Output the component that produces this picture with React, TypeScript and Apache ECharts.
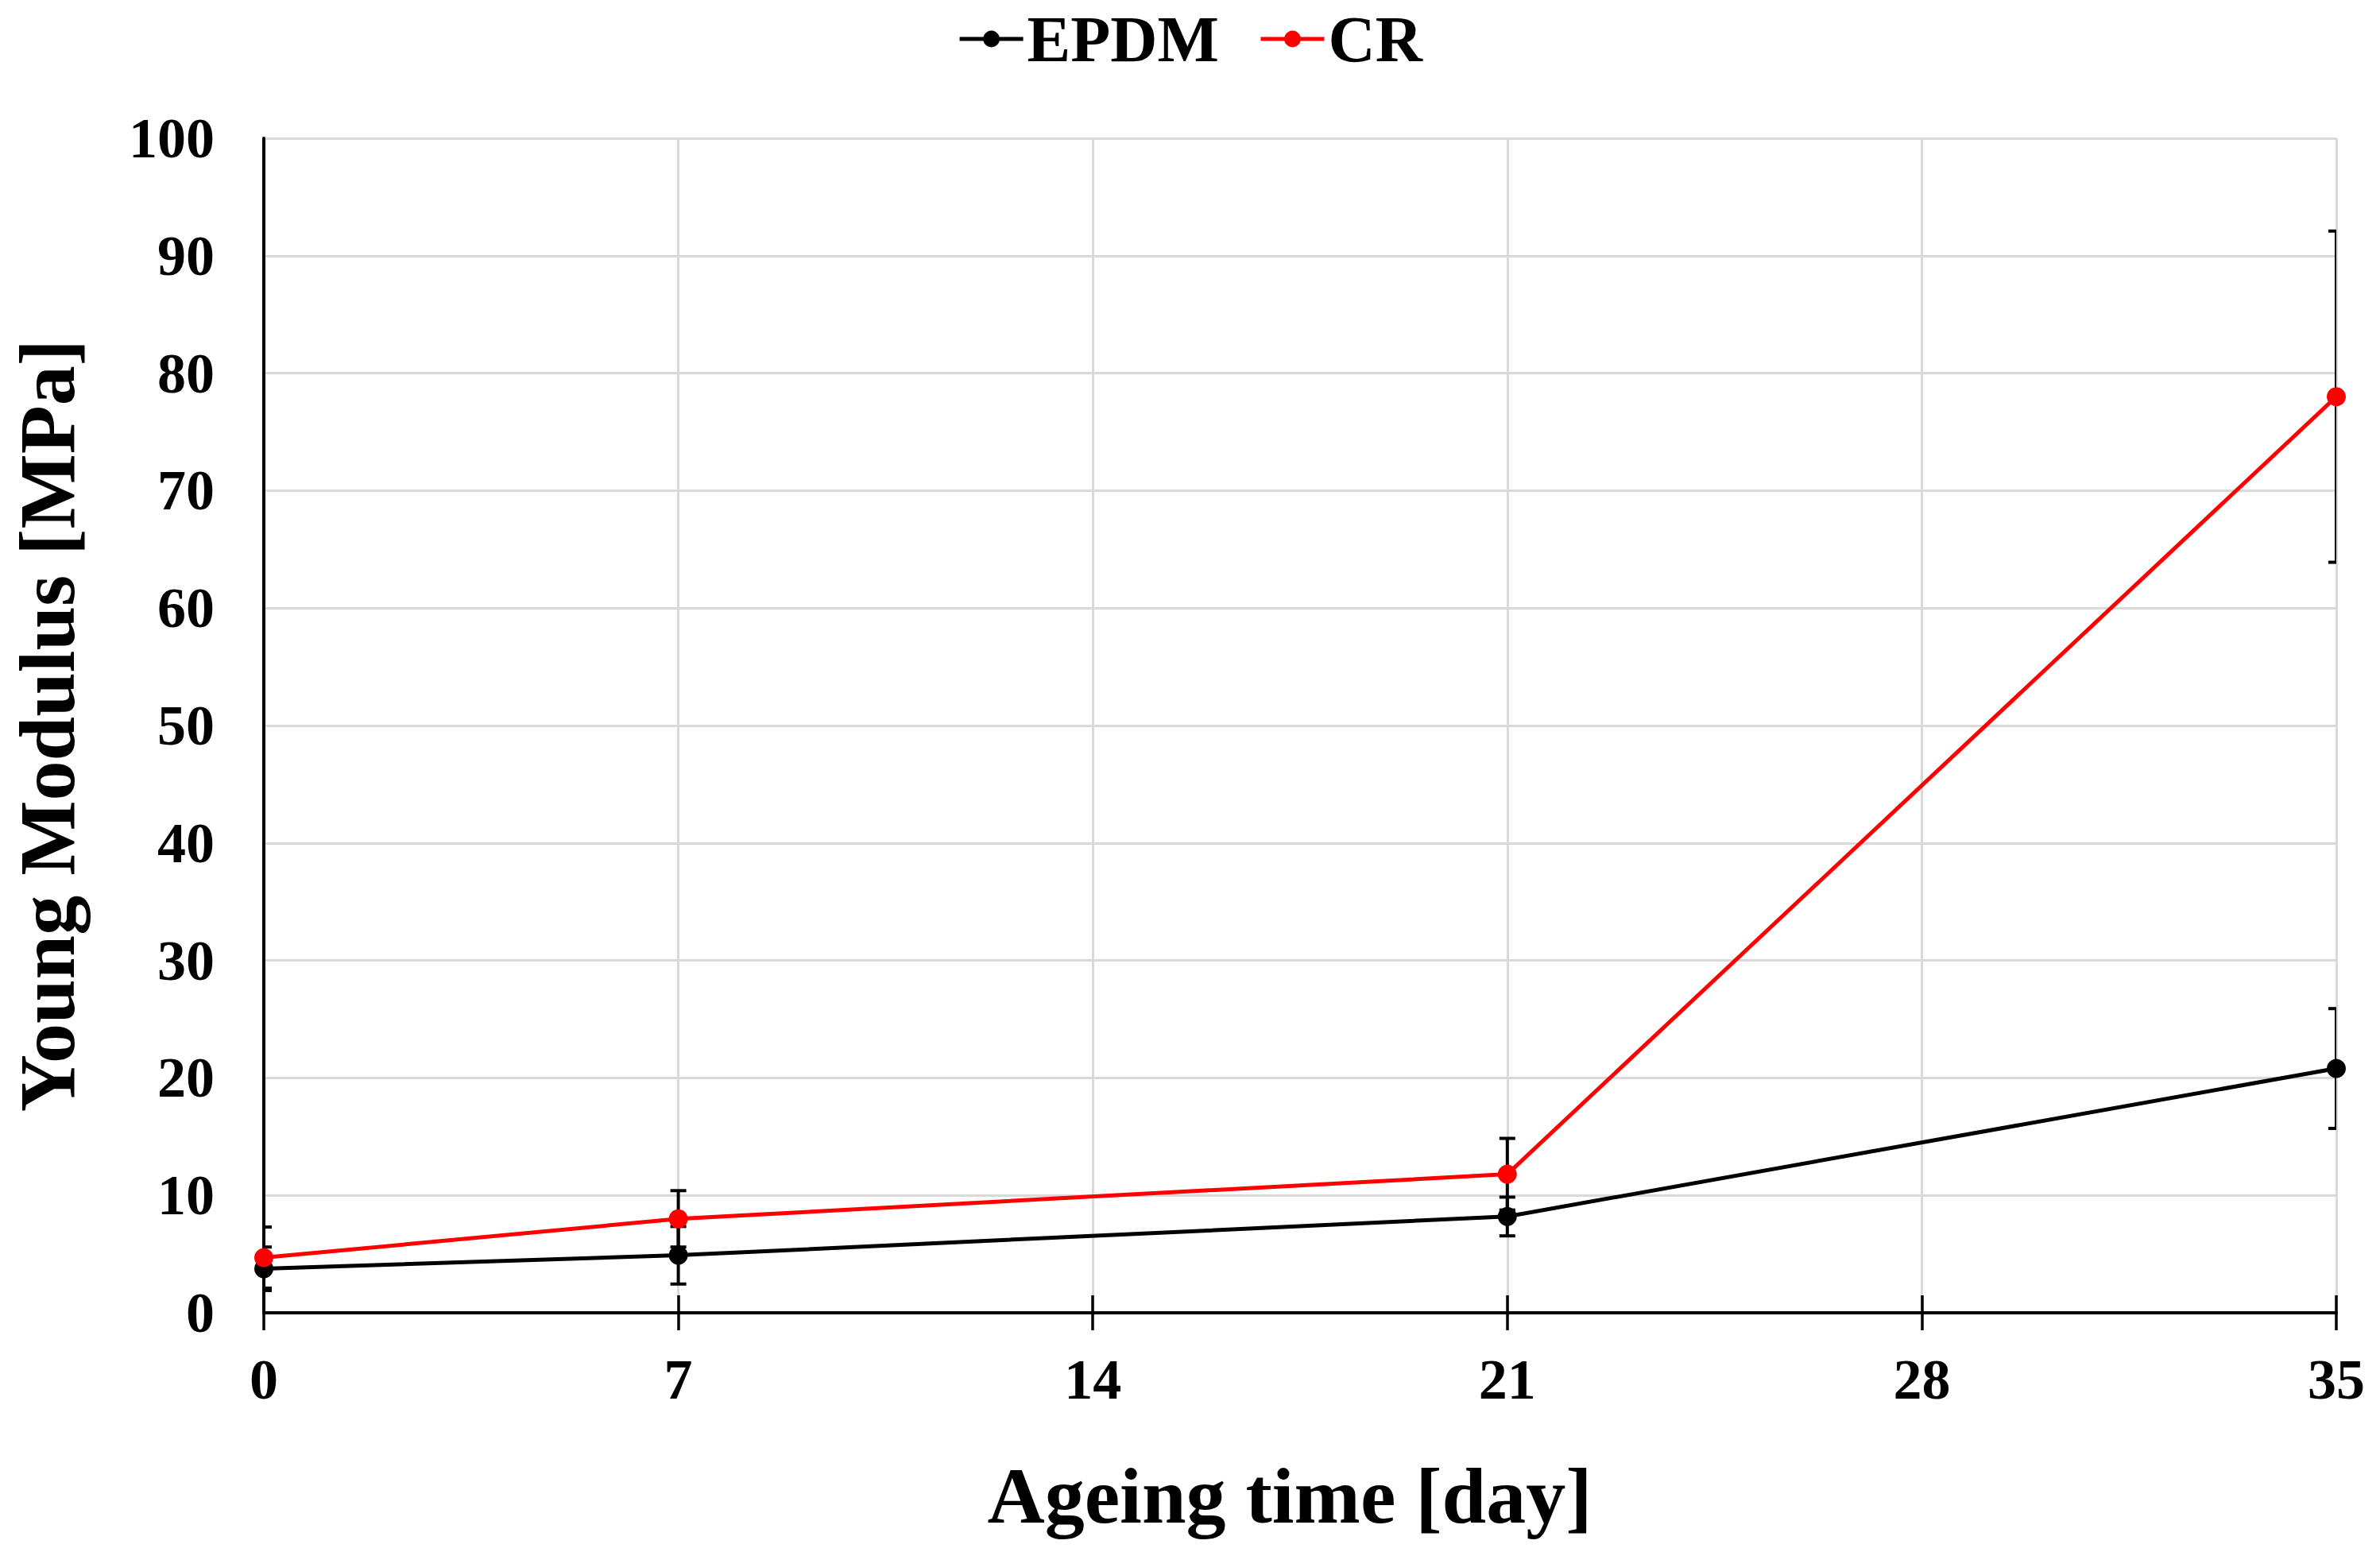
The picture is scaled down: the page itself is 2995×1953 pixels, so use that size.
import React, { useEffect, useRef } from "react";
import * as echarts from "echarts";

const days = [0, 7, 21, 35];
const epdmValues = [3.75, 4.9, 8.2, 20.8];
const epdmErrors = [1.85, 2.45, 1.65, 5.1];
const crValues = [4.7, 8.0, 11.8, 78.0];
const crErrors = [2.6, 2.4, 3.05, 14.1];
const xTicks = { min: 0, max: 35, interval: 7 };
const yTicks = { min: 0, max: 100, interval: 10 };

const FONT = '"Times New Roman", "Liberation Serif", serif';

function errorSeries(name: string, vals: number[], errs: number[]) {
  return {
    type: "custom",
    name: name + "-err",
    clip: true,
    z: 1,
    silent: true,
    data: days.map((d, i) => [d, vals[i] - errs[i], vals[i] + errs[i]]),
    renderItem: (params: any, api: any) => {
      const x = api.value(0);
      const lo = api.coord([x, api.value(1)]);
      const hi = api.coord([x, api.value(2)]);
      const hw = 10;
      const style = { stroke: "#000", lineWidth: 4 };
      return {
        type: "group",
        children: [
          { type: "line", shape: { x1: lo[0], y1: lo[1], x2: hi[0], y2: hi[1] }, style },
          { type: "line", shape: { x1: lo[0] - hw, y1: lo[1], x2: lo[0] + hw, y2: lo[1] }, style },
          { type: "line", shape: { x1: hi[0] - hw, y1: hi[1], x2: hi[0] + hw, y2: hi[1] }, style },
        ],
      };
    },
  };
}

export default function App() {
  const ref = useRef<HTMLDivElement>(null);
  useEffect(() => {
    document.body.style.margin = "0";
    const chart = echarts.init(ref.current!, null, { renderer: "svg" });
    const gridTop = 174;
    const gridBottom = 301;
    const gridHeight = 1953 - gridTop - gridBottom;
    chart.setOption({
      animation: false,
      backgroundColor: "#ffffff",
      textStyle: { fontFamily: FONT },
      legend: {
        top: 3,
        left: "center",
        itemWidth: 80,
        itemHeight: 26,
        itemGap: 50,
        data: ["EPDM", "CR"],
        lineStyle: { width: 5 },
        textStyle: { fontFamily: FONT, fontWeight: "bold", fontSize: 82, color: "#000" },
      },
      grid: { left: 332, right: 55, top: gridTop, bottom: gridBottom },
      xAxis: [
        {
          type: "value",
          ...xTicks,
          position: "bottom",
          name: "Ageing time [day]",
          nameLocation: "middle",
          nameGap: 180,
          nameTextStyle: {
            fontFamily: FONT,
            fontWeight: "bold",
            fontSize: 100,
            color: "#000",
            padding: [0, 26, 0, 0],
          },
          axisLine: { show: true, onZero: false, lineStyle: { color: "#000", width: 4 } },
          axisTick: { show: true, length: 22, lineStyle: { color: "#000", width: 3.5 } },
          axisLabel: { fontFamily: FONT, fontWeight: "bold", fontSize: 72, color: "#000", margin: 48 },
          splitLine: { show: true, lineStyle: { color: "#d9d9d9", width: 3 } },
        },
        {
          type: "value",
          ...xTicks,
          position: "top",
          offset: -gridHeight,
          axisLine: { show: false },
          axisTick: { show: true, length: 22, lineStyle: { color: "#000", width: 3.5 } },
          axisLabel: { show: false },
          splitLine: { show: false },
        },
      ],
      yAxis: {
        type: "value",
        ...yTicks,
        name: "Young Modulus [MPa]",
        nameLocation: "middle",
        nameGap: 223,
        nameTextStyle: { fontFamily: FONT, fontWeight: "bold", fontSize: 100, color: "#000" },
        axisLine: { show: true, onZero: false, lineStyle: { color: "#000", width: 4 } },
        axisTick: { show: false },
        axisLabel: { fontFamily: FONT, fontWeight: "bold", fontSize: 72, color: "#000", margin: 62 },
        splitLine: { show: true, lineStyle: { color: "#d9d9d9", width: 3 } },
      },
      series: [
        errorSeries("EPDM", epdmValues, epdmErrors),
        errorSeries("CR", crValues, crErrors),
        {
          type: "line",
          name: "EPDM",
          z: 2,
          data: days.map((d, i) => [d, epdmValues[i]]),
          symbol: "circle",
          symbolSize: 24,
          showAllSymbol: true,
          clip: false,
          lineStyle: { color: "#000", width: 5 },
          itemStyle: { color: "#000" },
        },
        {
          type: "line",
          name: "CR",
          z: 3,
          data: days.map((d, i) => [d, crValues[i]]),
          symbol: "circle",
          symbolSize: 24,
          showAllSymbol: true,
          clip: false,
          lineStyle: { color: "#ff0000", width: 5 },
          itemStyle: { color: "#ff0000" },
        },
      ],
    });
    return () => chart.dispose();
  }, []);
  return <div ref={ref} style={{ position: "fixed", left: 0, top: 0, width: 2995, height: 1953 }} />;
}
